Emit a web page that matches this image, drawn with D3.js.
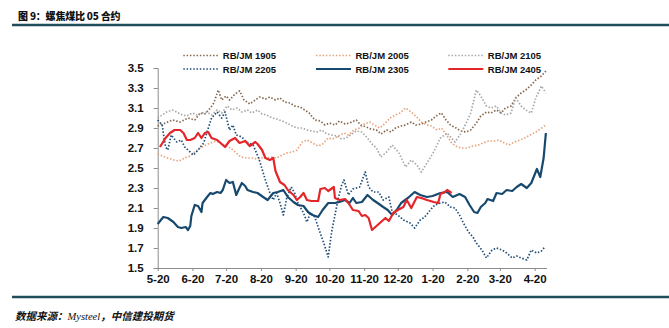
<!DOCTYPE html>
<html><head><meta charset="utf-8">
<script src="https://cdn.jsdelivr.net/npm/d3@7"></script>
<style>
html,body{margin:0;padding:0;background:#fff;}
svg{display:block;}
</style></head>
<body>
<svg id="chart" width="669" height="328"></svg>
<script>
// ---------- data ----------
const title = "图 9：螺焦煤比 05 合约";
const seriesNames = ["RB/JM 1905","RB/JM 2005","RB/JM 2105","RB/JM 2205","RB/JM 2305","RB/JM 2405"];
const yTicks = [1.5,1.7,1.9,2.1,2.3,2.5,2.7,2.9,3.1,3.3,3.5];
const xTickLabels = ["5-20","6-20","7-20","8-20","9-20","10-20","11-20","12-20","1-20","2-20","3-20","4-20"];

const s1905 = [
["2023-05-20",2.92],["2023-05-27",2.95],["2023-06-02",2.98],["2023-06-09",2.96],["2023-06-16",3.00],["2023-06-22",2.98],
["2023-06-27",3.05],["2023-07-01",3.04],["2023-07-06",3.10],["2023-07-09",3.15],["2023-07-13",3.28],["2023-07-16",3.18],
["2023-07-20",3.22],["2023-07-23",3.18],["2023-07-28",3.24],["2023-08-01",3.27],["2023-08-05",3.18],["2023-08-10",3.14],
["2023-08-15",3.18],["2023-08-19",3.21],["2023-08-24",3.19],["2023-08-28",3.21],["2023-09-02",3.18],["2023-09-06",3.20],
["2023-09-10",3.16],["2023-09-15",3.15],["2023-09-19",3.12],["2023-09-24",3.11],["2023-09-28",3.08],["2023-10-02",3.05],
["2023-10-07",2.98],["2023-10-12",2.97],["2023-10-16",2.93],["2023-10-20",2.95],["2023-10-25",2.93],["2023-10-29",2.97],
["2023-11-03",2.94],["2023-11-07",2.95],["2023-11-13",2.98],["2023-11-17",2.93],["2023-11-22",2.91],["2023-11-26",2.89],
["2023-12-01",2.88],["2023-12-05",2.84],["2023-12-10",2.88],["2023-12-14",2.86],["2023-12-18",2.90],["2023-12-23",2.92],
["2023-12-27",2.93],["2024-01-01",2.96],["2024-01-05",2.93],["2024-01-10",2.94],["2024-01-14",2.96],["2024-01-19",2.98],
["2024-01-23",3.02],["2024-01-28",3.05],["2024-02-01",2.98],["2024-02-05",2.93],["2024-02-10",2.90],["2024-02-14",2.87],
["2024-02-19",2.86],["2024-02-23",2.88],["2024-02-28",2.95],["2024-03-03",3.02],["2024-03-08",3.06],["2024-03-12",3.05],
["2024-03-17",3.08],["2024-03-21",3.05],["2024-03-25",3.10],["2024-03-30",3.12],["2024-04-03",3.20],["2024-04-08",3.25],
["2024-04-12",3.28],["2024-04-17",3.33],["2024-04-21",3.38],["2024-04-26",3.42],["2024-04-30",3.47]];

const s2005 = [
["2023-05-20",2.64],["2023-05-24",2.62],["2023-05-29",2.60],["2023-06-03",2.58],["2023-06-08",2.57],["2023-06-13",2.60],
["2023-06-18",2.62],["2023-06-22",2.66],["2023-06-27",2.70],["2023-07-02",2.73],["2023-07-06",2.75],["2023-07-11",2.77],
["2023-07-15",2.75],["2023-07-20",2.72],["2023-07-24",2.70],["2023-07-29",2.65],["2023-08-02",2.61],["2023-08-07",2.60],
["2023-08-12",2.60],["2023-08-16",2.59],["2023-08-21",2.60],["2023-08-25",2.60],["2023-08-30",2.61],["2023-09-03",2.60],
["2023-09-08",2.63],["2023-09-12",2.65],["2023-09-17",2.66],["2023-09-21",2.68],["2023-09-26",2.76],["2023-09-30",2.78],
["2023-10-05",2.75],["2023-10-10",2.72],["2023-10-14",2.74],["2023-10-19",2.80],["2023-10-23",2.79],["2023-10-28",2.82],
["2023-11-02",2.85],["2023-11-06",2.83],["2023-11-11",2.88],["2023-11-16",2.90],["2023-11-20",2.94],["2023-11-25",2.96],
["2023-11-29",2.93],["2023-12-04",2.90],["2023-12-09",2.95],["2023-12-13",3.00],["2023-12-18",3.03],["2023-12-22",3.05],
["2023-12-27",3.10],["2024-01-01",3.06],["2024-01-05",3.02],["2024-01-10",2.96],["2024-01-15",2.93],["2024-01-19",2.92],
["2024-01-24",2.88],["2024-01-28",2.90],["2024-02-02",2.82],["2024-02-06",2.75],["2024-02-11",2.71],["2024-02-15",2.70],
["2024-02-20",2.70],["2024-02-25",2.72],["2024-03-01",2.73],["2024-03-05",2.75],["2024-03-10",2.77],["2024-03-15",2.77],
["2024-03-19",2.78],["2024-03-24",2.75],["2024-03-28",2.73],["2024-04-02",2.76],["2024-04-07",2.78],["2024-04-11",2.80],
["2024-04-16",2.83],["2024-04-21",2.86],["2024-04-25",2.89],["2024-04-30",2.93]];

const s2105 = [
["2023-05-20",3.00],["2023-05-24",3.03],["2023-05-28",3.06],["2023-06-02",3.08],["2023-06-06",3.06],["2023-06-11",3.03],
["2023-06-15",3.02],["2023-06-20",3.05],["2023-06-24",3.03],["2023-06-28",3.05],["2023-07-03",3.06],["2023-07-07",3.03],
["2023-07-12",3.08],["2023-07-16",3.05],["2023-07-21",3.12],["2023-07-25",3.08],["2023-07-30",3.10],["2023-08-03",3.06],
["2023-08-08",3.08],["2023-08-12",3.05],["2023-08-17",3.08],["2023-08-21",3.04],["2023-08-25",3.03],["2023-08-30",3.00],
["2023-09-03",2.99],["2023-09-08",2.97],["2023-09-12",2.95],["2023-09-17",2.92],["2023-09-21",2.90],["2023-09-26",2.90],
["2023-09-30",2.88],["2023-10-04",2.87],["2023-10-09",2.86],["2023-10-13",2.88],["2023-10-18",2.84],["2023-10-22",2.83],
["2023-10-27",2.82],["2023-10-31",2.79],["2023-11-04",2.80],["2023-11-09",2.84],["2023-11-13",2.87],["2023-11-18",2.86],
["2023-11-23",2.80],["2023-11-27",2.74],["2023-12-01",2.70],["2023-12-05",2.61],["2023-12-10",2.66],["2023-12-15",2.73],
["2023-12-21",2.65],["2023-12-27",2.51],["2024-01-01",2.58],["2024-01-06",2.53],["2024-01-10",2.46],["2024-01-15",2.55],
["2024-01-21",2.66],["2024-01-27",2.80],["2024-02-02",2.85],["2024-02-09",2.76],["2024-02-14",2.84],["2024-02-19",2.95],
["2024-02-23",3.05],["2024-02-28",3.28],["2024-03-03",3.22],["2024-03-08",3.12],["2024-03-12",3.10],["2024-03-17",3.12],
["2024-03-21",3.05],["2024-03-25",3.03],["2024-03-30",3.05],["2024-04-03",3.20],["2024-04-08",3.12],["2024-04-12",3.08],
["2024-04-17",3.05],["2024-04-21",3.20],["2024-04-26",3.32],["2024-04-30",3.25]];

const s2205 = [
["2023-05-20",2.98],["2023-05-24",2.93],["2023-05-25",2.85],["2023-05-27",2.71],["2023-05-29",2.68],["2023-06-01",2.83],
["2023-06-06",2.76],["2023-06-10",2.78],["2023-06-13",2.71],["2023-06-18",2.66],["2023-06-21",2.63],["2023-06-25",2.68],
["2023-06-30",2.75],["2023-07-03",2.86],["2023-07-07",3.00],["2023-07-12",3.06],["2023-07-16",3.00],["2023-07-19",3.06],
["2023-07-23",2.88],["2023-07-26",2.93],["2023-07-29",2.83],["2023-08-03",2.81],["2023-08-07",2.76],["2023-08-13",2.73],
["2023-08-18",2.60],["2023-08-21",2.49],["2023-08-24",2.38],["2023-08-28",2.25],["2023-08-31",2.18],["2023-09-03",2.25],
["2023-09-06",2.15],["2023-09-09",2.03],["2023-09-12",2.20],["2023-09-16",2.31],["2023-09-19",2.25],["2023-09-22",2.15],
["2023-09-27",2.05],["2023-09-30",1.96],["2023-10-03",2.05],["2023-10-07",2.01],["2023-10-10",1.91],["2023-10-15",1.75],
["2023-10-19",1.61],["2023-10-22",1.86],["2023-10-25",2.03],["2023-10-28",2.20],["2023-10-31",2.33],["2023-11-02",2.38],
["2023-11-06",2.23],["2023-11-10",2.29],["2023-11-16",2.31],["2023-11-21",2.46],["2023-11-24",2.31],["2023-11-28",2.26],
["2023-12-03",2.26],["2023-12-07",2.18],["2023-12-12",2.21],["2023-12-15",2.06],["2023-12-20",2.03],["2023-12-25",1.98],
["2023-12-31",1.95],["2024-01-04",1.90],["2024-01-09",1.98],["2024-01-13",2.01],["2024-01-18",2.08],["2024-01-22",2.13],
["2024-01-27",2.15],["2024-01-31",2.16],["2024-02-05",2.11],["2024-02-09",2.10],["2024-02-13",2.03],["2024-02-16",1.96],
["2024-02-21",1.86],["2024-02-25",1.81],["2024-02-28",1.75],["2024-03-04",1.68],["2024-03-08",1.60],["2024-03-13",1.68],
["2024-03-17",1.70],["2024-03-22",1.68],["2024-03-26",1.65],["2024-03-31",1.60],["2024-04-04",1.62],["2024-04-08",1.60],
["2024-04-13",1.58],["2024-04-17",1.68],["2024-04-22",1.65],["2024-04-26",1.67],["2024-04-29",1.71]];

const s2305 = [
["2023-05-20",1.94],["2023-05-25",2.01],["2023-05-29",2.00],["2023-06-03",1.96],["2023-06-07",1.91],["2023-06-10",1.90],
["2023-06-14",1.91],["2023-06-16",1.88],["2023-06-18",1.92],["2023-06-19",2.02],["2023-06-22",2.13],["2023-06-25",2.12],
["2023-06-28",2.06],["2023-06-29",2.15],["2023-07-03",2.21],["2023-07-06",2.25],["2023-07-08",2.24],["2023-07-12",2.26],
["2023-07-15",2.25],["2023-07-17",2.28],["2023-07-20",2.38],["2023-07-23",2.35],["2023-07-26",2.36],["2023-07-29",2.23],
["2023-07-31",2.28],["2023-08-03",2.35],["2023-08-06",2.32],["2023-08-08",2.28],["2023-08-13",2.26],["2023-08-17",2.25],
["2023-08-22",2.21],["2023-08-26",2.18],["2023-08-31",2.25],["2023-09-04",2.26],["2023-09-09",2.28],["2023-09-13",2.21],
["2023-09-18",2.16],["2023-09-22",2.13],["2023-09-27",2.12],["2023-10-01",2.06],["2023-10-05",2.03],["2023-10-10",2.01],
["2023-10-14",2.08],["2023-10-19",2.15],["2023-10-25",2.15],["2023-10-29",2.16],["2023-11-03",2.18],["2023-11-07",2.15],
["2023-11-10",2.20],["2023-11-13",2.15],["2023-11-18",2.16],["2023-11-23",2.23],["2023-11-28",2.18],["2023-12-02",2.15],
["2023-12-07",2.11],["2023-12-11",2.08],["2023-12-15",2.03],["2023-12-19",2.08],["2023-12-23",2.15],["2023-12-29",2.20],
["2024-01-04",2.26],["2024-01-09",2.23],["2024-01-15",2.21],["2024-01-20",2.22],["2024-01-27",2.25],["2024-02-02",2.26],
["2024-02-07",2.21],["2024-02-13",2.24],["2024-02-18",2.21],["2024-02-22",2.13],["2024-02-26",2.06],["2024-02-29",2.05],
["2024-03-03",2.11],["2024-03-07",2.15],["2024-03-09",2.19],["2024-03-14",2.17],["2024-03-17",2.25],["2024-03-22",2.24],
["2024-03-26",2.28],["2024-03-31",2.27],["2024-04-04",2.31],["2024-04-08",2.34],["2024-04-13",2.30],["2024-04-17",2.35],
["2024-04-22",2.49],["2024-04-25",2.41],["2024-04-28",2.60],["2024-04-30",2.85]];

const s2405 = [
["2023-05-22",2.71],["2023-05-27",2.80],["2023-05-31",2.85],["2023-06-04",2.88],["2023-06-09",2.88],["2023-06-12",2.85],
["2023-06-15",2.78],["2023-06-18",2.78],["2023-06-22",2.80],["2023-06-25",2.85],["2023-06-28",2.80],["2023-07-01",2.85],
["2023-07-04",2.86],["2023-07-07",2.80],["2023-07-12",2.78],["2023-07-15",2.75],["2023-07-19",2.71],["2023-07-23",2.77],
["2023-07-28",2.80],["2023-08-01",2.75],["2023-08-06",2.77],["2023-08-10",2.72],["2023-08-15",2.76],["2023-08-17",2.74],
["2023-08-21",2.68],["2023-08-24",2.60],["2023-08-28",2.58],["2023-08-31",2.60],["2023-09-02",2.47],["2023-09-06",2.36],
["2023-09-10",2.33],["2023-09-13",2.28],["2023-09-18",2.23],["2023-09-21",2.18],["2023-09-24",2.21],["2023-09-27",2.25],
["2023-09-30",2.18],["2023-10-04",2.17],["2023-10-10",2.17],["2023-10-12",2.29],["2023-10-16",2.30],["2023-10-19",2.27],
["2023-10-24",2.31],["2023-10-25",2.20],["2023-10-29",2.18],["2023-11-03",2.19],["2023-11-06",2.15],["2023-11-10",2.08],
["2023-11-15",2.07],["2023-11-18",2.02],["2023-11-21",2.03],["2023-11-24",2.00],["2023-11-27",1.88],["2023-11-30",1.91],
["2023-12-04",1.95],["2023-12-09",2.00],["2023-12-12",1.97],["2023-12-16",2.05],["2023-12-20",2.08],["2023-12-25",2.11],
["2023-12-28",2.18],["2024-01-01",2.10],["2024-01-06",2.21],["2024-01-10",2.20],["2024-01-15",2.18],["2024-01-21",2.16],
["2024-01-25",2.15],["2024-01-27",2.24],["2024-01-31",2.26],["2024-02-02",2.28],["2024-02-06",2.25]];

const seriesData = [s1905, s2005, s2105, s2205, s2305, s2405];

// ---------- styles ----------
const colors = ["#86684f","#e8a47c","#a8a8a8","#1f4e79","#17496f","#e4252a"];
const dashed = [true,true,true,true,false,false];

const svg = d3.select("#chart");
const parse = d3.timeParse("%Y-%m-%d");
const x = d3.scaleTime()
  .domain([parse("2023-05-20"), parse("2024-05-01")])
  .range([157.7, 547]);
const y = d3.scaleLinear().domain([1.5, 3.5]).range([268, 68]);

const cjk = "'Noto Sans CJK SC', 'Noto Sans', sans-serif";
const latin = "'Liberation Sans', Arial, sans-serif";

// title + rules
svg.append("text").attr("x", 18).attr("y", 20)
  .attr("font-family", cjk).attr("font-weight", "900").attr("font-size", 10)
  .attr("letter-spacing", -0.2)
  .attr("fill", "#111").text(title);
svg.append("line").attr("x1", 12).attr("x2", 669).attr("y1", 25).attr("y2", 25)
  .attr("stroke", "#1f4d5c").attr("stroke-width", 2.5);
svg.append("line").attr("x1", 12).attr("x2", 669).attr("y1", 297).attr("y2", 297)
  .attr("stroke", "#1f4d5c").attr("stroke-width", 2.5);

// source
const src = svg.append("text").attr("x", 15).attr("y", 320)
  .attr("font-size", 10.5).attr("fill", "#111").attr("font-style", "italic");
src.append("tspan").attr("font-family", cjk).attr("font-weight", "bold").text("数据来源：");
src.append("tspan").attr("font-family", "'Liberation Serif', 'Times New Roman', serif").text("Mysteel");
src.append("tspan").attr("font-family", cjk).attr("font-weight", "bold").text("，中信建投期货");

// axes
const yAxis = svg.append("g").attr("transform", "translate(157.7,0)")
  .call(d3.axisLeft(y).tickValues(yTicks).tickSize(4).tickPadding(10).tickFormat(d3.format(".1f")));
const xTickDates = xTickLabels.map((l, i) => {
  const [m, d] = l.split("-").map(Number);
  return new Date(m >= 5 ? 2023 : 2024, m - 1, d);
});
const xAxis = svg.append("g").attr("transform", "translate(0,268)")
  .call(d3.axisBottom(x).tickValues(xTickDates).tickSize(3).tickPadding(4)
    .tickFormat((d, i) => xTickLabels[i]))
  .call(g => g.select(".domain").attr("d", "M157.7,0.5H547"));
[yAxis, xAxis].forEach(g => {
  g.select(".domain").attr("stroke", "#8c8c8c");
  g.selectAll(".tick line").attr("stroke", "#8c8c8c");
  g.selectAll("text").attr("font-family", latin).attr("font-weight", "bold")
    .attr("font-size", 11.5).attr("fill", "#111");
});

// lines
const line = d3.line().x(d => x(parse(d[0]))).y(d => y(d[1])).curve(d3.curveLinear);
seriesData.forEach((s, i) => {
  svg.append("path").datum(s).attr("d", line).attr("fill", "none")
    .attr("stroke", colors[i])
    .attr("stroke-width", dashed[i] ? 1.7 : 2.2)
    .attr("stroke-dasharray", dashed[i] ? "1.5,1.8" : null)
    .attr("stroke-linejoin", "round");
});

// legend
const legX = [183.3, 316, 448.3];
const legY = [55.5, 69];
seriesNames.forEach((name, i) => {
  const col = i % 3, row = Math.floor(i / 3);
  const g = svg.append("g").attr("transform", `translate(${legX[col]},${legY[row]})`);
  g.append("line").attr("x1", 0).attr("x2", 35).attr("y1", 0).attr("y2", 0)
    .attr("stroke", colors[i]).attr("stroke-width", dashed[i] ? 1.7 : 2.2)
    .attr("stroke-dasharray", dashed[i] ? "1.5,1.8" : null);
  g.append("text").attr("x", 39.5).attr("y", 3.6)
    .attr("font-family", latin).attr("font-weight", "bold").attr("font-size", 9.5)
    .attr("fill", "#111").text(name);
});
</script>
</body></html>
